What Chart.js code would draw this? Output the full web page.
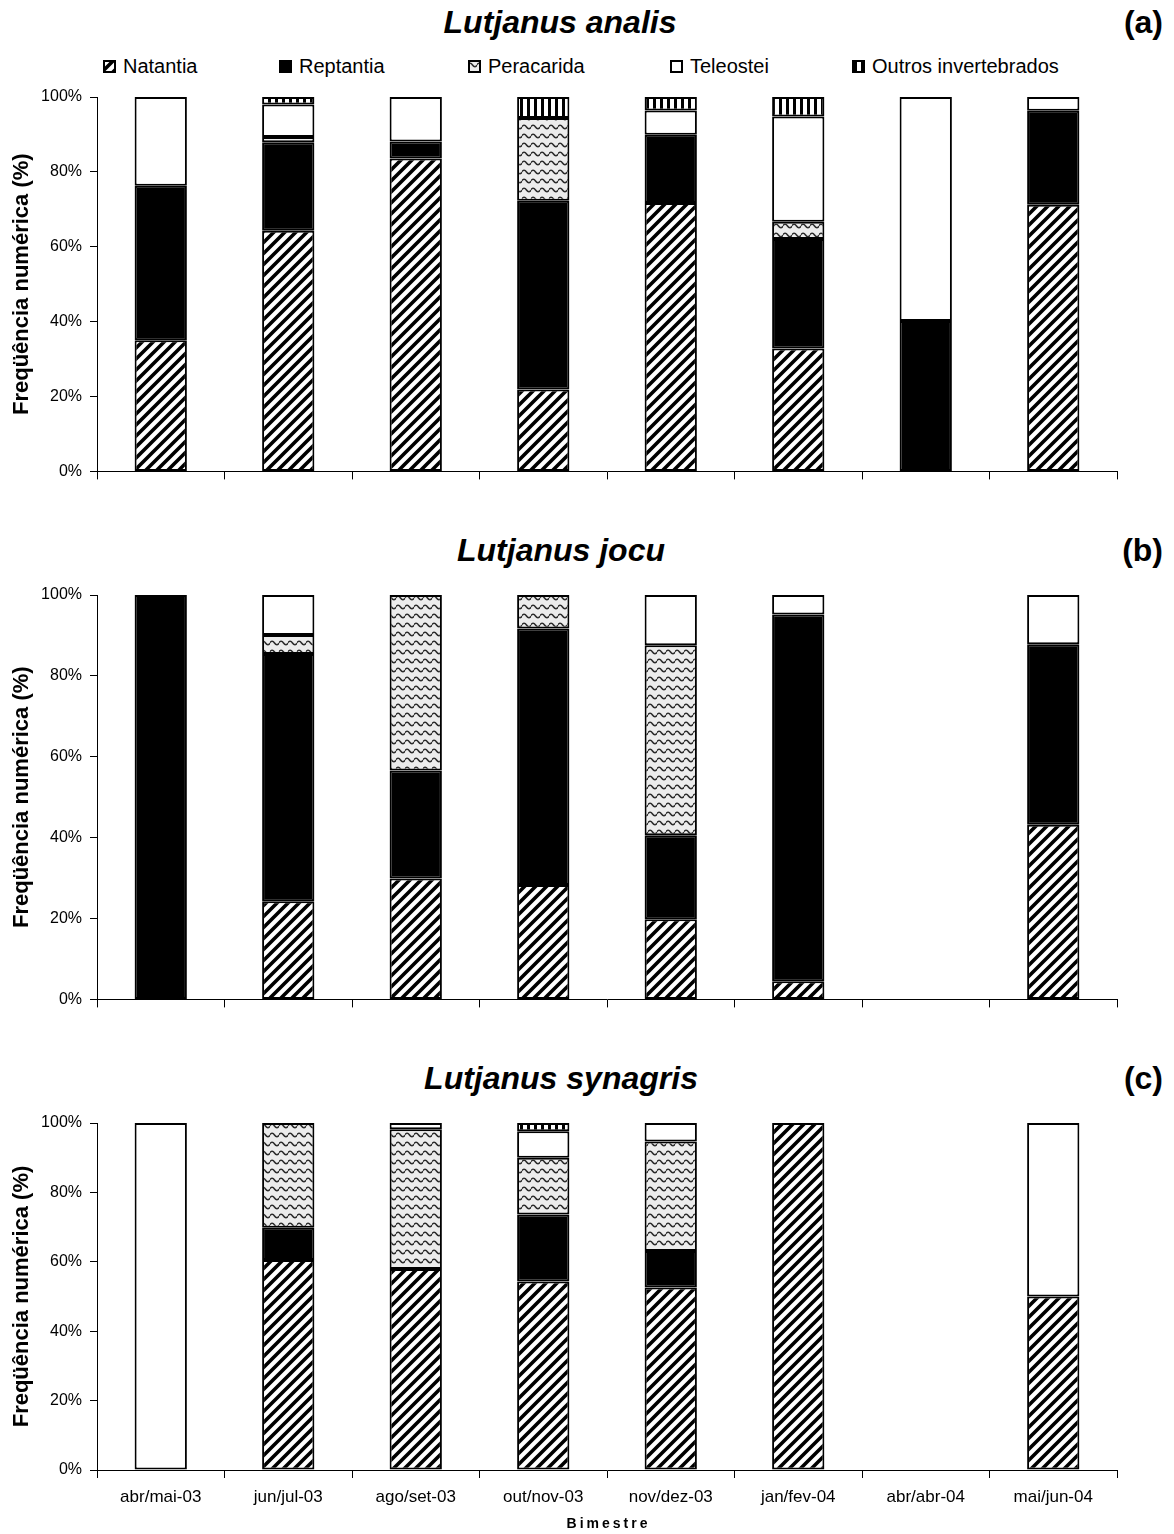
<!DOCTYPE html>
<html>
<head>
<meta charset="utf-8">
<script src="https://cdn.jsdelivr.net/npm/chart.js@4.4.1/dist/chart.umd.min.js"></script>
<style>
  body { margin: 0; background: #fff; width: 1174px; height: 1534px; position: relative; overflow: hidden;
         font-family: "Liberation Sans", Arial, sans-serif; color: #000; }
  canvas.chart { position: absolute; left: 0; }
  .title { position: absolute; font-weight: bold; font-style: italic; font-size: 32px; line-height: 32px;
           transform: translateX(-50%); white-space: nowrap; }
  .tag { position: absolute; right: 11px; font-weight: bold; font-size: 32px; line-height: 32px; }
  .leg { position: absolute; top: 56px; font-size: 20px; line-height: 20px; white-space: nowrap; }
  .leg canvas { position: absolute; left: 0; top: 4px; }
  .leg span { position: absolute; left: 20px; top: 0; }
</style>
</head>
<body>

<div class="title" style="left:560px; top:6px">Lutjanus analis</div>
<div class="tag" style="top:6px">(a)</div>
<div id="legend"></div>
<canvas id="chartA" class="chart" width="1174" height="412" style="top:77px"></canvas>

<div class="title" style="left:561px; top:534px">Lutjanus jocu</div>
<div class="tag" style="top:534px">(b)</div>
<canvas id="chartB" class="chart" width="1174" height="442" style="top:575px"></canvas>

<div class="title" style="left:561px; top:1062px">Lutjanus synagris</div>
<div class="tag" style="top:1062px">(c)</div>
<canvas id="chartC" class="chart" width="1174" height="431" style="top:1103px"></canvas>

<script>
// bimestres e categorias de presas
const bimestres = ['abr/mai-03', 'jun/jul-03', 'ago/set-03', 'out/nov-03',
                   'nov/dez-03', 'jan/fev-04', 'abr/abr-04', 'mai/jun-04'];
const itens = ['Natantia', 'Reptantia', 'Peracarida', 'Teleostei', 'Outros invertebrados'];
const yTicks = [0, 20, 40, 60, 80, 100];

// frequência numérica (%) - Lutjanus analis
const analisNatantia   = [35.0, 64.3, 83.6, 21.9, 71.7, 32.8, 0, 71.2];
const analisReptantia  = [41.3, 23.6, 4.5, 50.4, 18.2, 29.3, 40.2, 25.1];
const analisPeracarida = [0, 1.4, 0, 22.1, 0, 4.6, 0, 0];
const analisTeleostei  = [23.7, 8.7, 11.9, 0, 6.5, 28.1, 59.8, 3.7];
const analisOutros     = [0, 2.0, 0, 5.6, 3.6, 5.2, 0, 0];

// Lutjanus jocu
const jocuNatantia   = [0, 24.3, 29.9, 28.3, 19.8, 4.5, 0, 43.2];
const jocuReptantia  = [100, 61.1, 26.7, 63.4, 20.8, 90.7, 0, 44.6];
const jocuPeracarida = [0, 4.7, 43.4, 8.3, 47.0, 0, 0, 0];
const jocuTeleostei  = [0, 9.9, 0, 0, 12.4, 4.8, 0, 12.2];
const jocuOutros     = [0, 0, 0, 0, 0, 0, 0, 0];

// Lutjanus synagris
const synagrisNatantia   = [0, 60.5, 57.9, 54.3, 52.6, 100, 0, 50];
const synagrisReptantia  = [0, 9.3, 0, 19.3, 10.5, 0, 0, 0];
const synagrisPeracarida = [0, 30.2, 40.3, 16.4, 31.6, 0, 0, 0];
const synagrisTeleostei  = [100, 0, 1.8, 7.6, 5.3, 0, 0, 50];
const synagrisOutros     = [0, 0, 0, 2.4, 0, 0, 0, 0];

const FONT = '"Liberation Sans", Arial, sans-serif';

// --- hachuras ---
function tile(w, h, paint) {
  const c = document.createElement('canvas');
  c.width = w; c.height = h;
  const g = c.getContext('2d');
  g.fillStyle = '#fff';
  g.fillRect(0, 0, w, h);
  paint(g, w, h);
  return c;
}

const tiles = {
  diagonal: tile(11, 11, (g, s) => {
    g.strokeStyle = '#000';
    g.lineWidth = 3.6;
    g.beginPath();
    g.moveTo(0, s); g.lineTo(s, 0);
    g.moveTo(-s / 2, s / 2); g.lineTo(s / 2, -s / 2);
    g.moveTo(s / 2, s * 1.5); g.lineTo(s * 1.5, s / 2);
    g.stroke();
  }),
  wave: tile(9, 9, (g, w, h) => {
    g.fillStyle = '#ececec';
    g.fillRect(0, 0, w, h);
    g.strokeStyle = '#2a2a2a';
    g.lineWidth = 1.5;
    g.beginPath();
    g.moveTo(-0.5, 5);
    g.quadraticCurveTo(2.25, 1.6, 4.5, 5);
    g.quadraticCurveTo(6.75, 8.4, 9.5, 5);
    g.stroke();
  }),
  vertical: tile(7, 7, (g, w, h) => {
    g.fillStyle = '#000';
    g.fillRect(2, 0, 3, h);
  })
};

function fillFor(ctx, name) {
  if (name === 'Reptantia') return '#000';
  if (name === 'Teleostei') return '#fff';
  const t = name === 'Natantia' ? tiles.diagonal : name === 'Peracarida' ? tiles.wave : tiles.vertical;
  return ctx.createPattern(t, 'repeat');
}

// --- legenda ---
const legendX = [103, 279, 468, 670, 852];
const legend = document.getElementById('legend');
itens.forEach((name, i) => {
  const item = document.createElement('div');
  item.className = 'leg';
  item.style.left = legendX[i] + 'px';
  const sw = document.createElement('canvas');
  sw.width = 13; sw.height = 13;
  const g = sw.getContext('2d');
  g.fillStyle = '#000';
  g.fillRect(0, 0, 13, 13);
  g.fillStyle = fillFor(g, name);
  g.fillRect(2, 2, 9, 9);
  const label = document.createElement('span');
  label.textContent = name;
  item.appendChild(sw);
  item.appendChild(label);
  legend.appendChild(item);
});

// "Bimestre" com espaçamento entre letras
const bimestreLabel = {
  id: 'bimestreLabel',
  afterDraw(chart) {
    const { ctx, chartArea } = chart;
    ctx.save();
    ctx.font = 'bold 14px ' + FONT;
    ctx.letterSpacing = '3px';
    ctx.fillStyle = '#000';
    ctx.textAlign = 'center';
    ctx.textBaseline = 'middle';
    ctx.fillText('Bimestre', (chartArea.left + chartArea.right) / 2 + 1.5, chartArea.bottom + 54);
    ctx.restore();
  }
};

function buildChart(id, series, showLabels) {
  const canvas = document.getElementById(id);
  const ctx = canvas.getContext('2d');
  const datasets = itens.map((name, i) => ({
    label: name,
    data: series[i].map(v => v || null),
    backgroundColor: fillFor(ctx, name),
    borderColor: '#000',
    borderWidth: 2,
    borderSkipped: false,
    barPercentage: 0.41,
    categoryPercentage: 1
  }));

  return new Chart(ctx, {
    type: 'bar',
    data: { labels: bimestres, datasets },
    options: {
      responsive: false,
      animation: false,
      devicePixelRatio: 1,
      layout: { padding: { top: 20, right: 57, left: 0, bottom: 0 } },
      plugins: { legend: { display: false }, tooltip: { enabled: false } },
      scales: {
        x: {
          stacked: true,
          offset: true,
          grid: { offset: true, drawOnChartArea: false, drawTicks: true, tickLength: 8, color: '#000' },
          border: { display: true, color: '#000', width: 1 },
          ticks: { display: showLabels, color: '#000', padding: 9, maxRotation: 0, autoSkip: false,
                   font: { family: FONT, size: 17 } },
          afterFit: s => { s.height = showLabels ? 64 : 12; }
        },
        y: {
          stacked: true,
          min: yTicks[0],
          max: yTicks[yTicks.length - 1],
          grid: { drawOnChartArea: false, drawTicks: true, tickLength: 7, color: '#000' },
          border: { display: true, color: '#000', width: 1 },
          ticks: { stepSize: yTicks[1] - yTicks[0], color: '#000', padding: 8,
                   font: { family: FONT, size: 16 }, callback: v => v + '%' },
          title: { display: true, text: 'Freqüência numérica (%)', color: '#000',
                   font: { family: FONT, size: 22, weight: 'bold' }, padding: { top: 9, bottom: 0 } },
          afterFit: s => { s.width = 97; }
        }
      }
    },
    plugins: showLabels ? [bimestreLabel] : []
  });
}

buildChart('chartA', [analisNatantia, analisReptantia, analisPeracarida, analisTeleostei, analisOutros], false);
buildChart('chartB', [jocuNatantia, jocuReptantia, jocuPeracarida, jocuTeleostei, jocuOutros], false);
buildChart('chartC', [synagrisNatantia, synagrisReptantia, synagrisPeracarida, synagrisTeleostei, synagrisOutros], true);
</script>
</body>
</html>
